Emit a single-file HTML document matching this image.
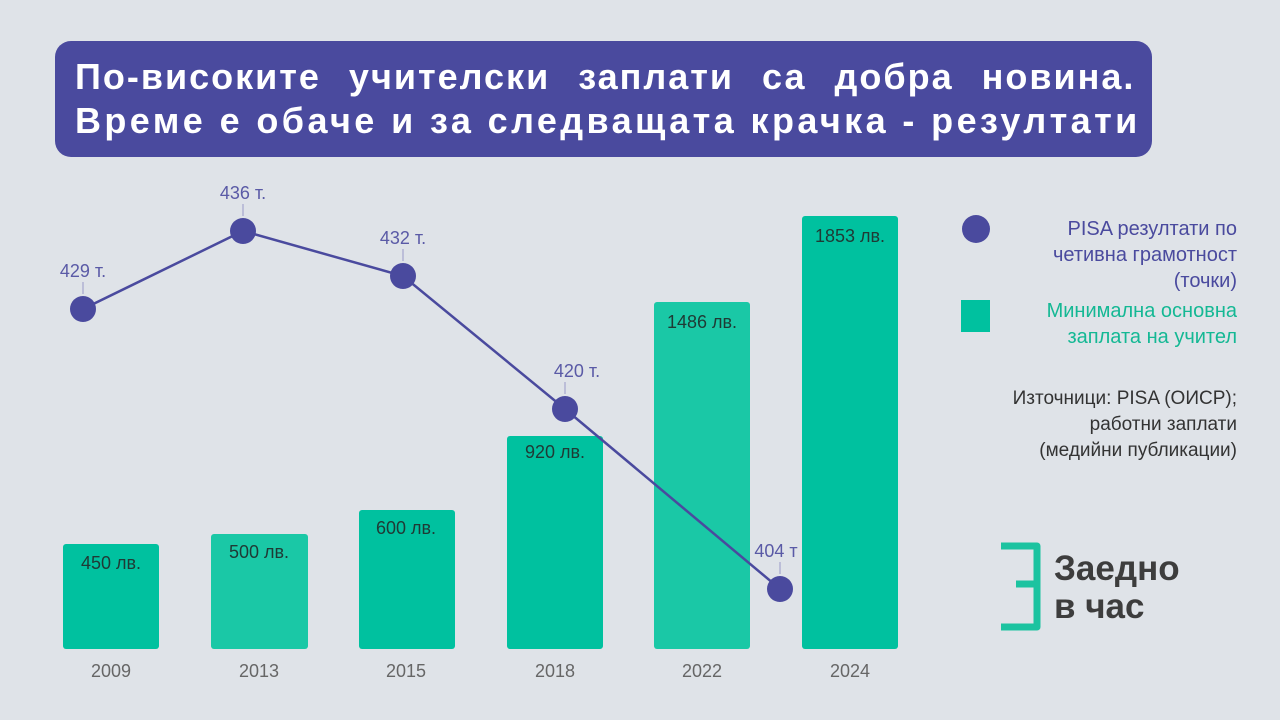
<!DOCTYPE html>
<html><head><meta charset="utf-8"><style>
body{margin:0;width:1280px;height:720px;background:#dfe3e8;overflow:hidden;font-family:"Liberation Sans",sans-serif;position:relative}
.title{position:absolute;left:55px;top:41px;width:1097px;height:116px;background:#4a4a9e;border-radius:16px;color:#fff;font-weight:bold;font-size:36px;line-height:44px;box-sizing:border-box;padding:14px 0 0 20px}
.leg{position:absolute;right:43px;text-align:right;font-size:20px;line-height:26px}
</style></head><body>
<div class="title"><div style="word-spacing:16px;letter-spacing:2px;white-space:nowrap">По-високите учителски заплати са добра новина.</div><div style="letter-spacing:3.4px;white-space:nowrap">Време е обаче и за следващата крачка - резултати</div></div>
<svg width="1280" height="720" style="position:absolute;left:0;top:0" font-family="Liberation Sans, sans-serif">
<g>
<rect x="63" y="544" width="96" height="105" rx="3" fill="#00c19f"/>
<rect x="211" y="534" width="97" height="115" rx="3" fill="#1ac8a6"/>
<rect x="359" y="510" width="96" height="139" rx="3" fill="#00c19f"/>
<rect x="507" y="436" width="96" height="213" rx="3" fill="#00c19f"/>
<rect x="654" y="302" width="96" height="347" rx="3" fill="#1ac8a6"/>
<rect x="802" y="216" width="96" height="433" rx="3" fill="#00c19f"/>
</g>
<g font-size="18" fill="#1f3a35" text-anchor="middle">
<text x="111" y="569">450 лв.</text><text x="259" y="558">500 лв.</text><text x="406" y="534">600 лв.</text>
<text x="555" y="458">920 лв.</text><text x="702" y="328">1486 лв.</text><text x="850" y="242">1853 лв.</text>
</g>
<g font-size="18" fill="#666" text-anchor="middle">
<text x="111" y="677">2009</text><text x="259" y="677">2013</text><text x="406" y="677">2015</text>
<text x="555" y="677">2018</text><text x="702" y="677">2022</text><text x="850" y="677">2024</text>
</g>
<polyline points="83,309 243,231 403,276 565,409 780,589" fill="none" stroke="#4a4a9e" stroke-width="2.5"/>
<g fill="#4a4a9e"><circle cx="83" cy="309" r="13"/><circle cx="243" cy="231" r="13"/><circle cx="403" cy="276" r="13"/><circle cx="565" cy="409" r="13"/><circle cx="780" cy="589" r="13"/></g>
<g stroke="#9a9ac8" stroke-width="1"><line x1="83" y1="282" x2="83" y2="294"/><line x1="243" y1="204" x2="243" y2="216"/><line x1="403" y1="249" x2="403" y2="261"/><line x1="565" y1="382" x2="565" y2="394"/><line x1="780" y1="562" x2="780" y2="574"/></g>
<g font-size="18" fill="#5a5aa6" text-anchor="middle">
<text x="83" y="277">429 т.</text><text x="243" y="199">436 т.</text><text x="403" y="244">432 т.</text><text x="577" y="377">420 т.</text><text x="776" y="557">404 т</text>
</g>
<circle cx="976" cy="229" r="14" fill="#4a4a9e"/>
<rect x="961" y="300" width="29" height="32" fill="#00c19f"/>
<path d="M1001 546 H1037 V584 M1016 584 H1037 V627 H1001" fill="none" stroke="#1cc3a0" stroke-width="7" stroke-linejoin="round"/>
<text x="1054" y="580" font-size="35" font-weight="bold" fill="#3d3d3d">Заедно</text>
<text x="1054" y="618" font-size="35" font-weight="bold" fill="#3d3d3d">в час</text>
</svg>
<div class="leg" style="top:216px;color:#4a4a9e">PISA резултати по<br>четивна грамотност<br>(точки)</div>
<div class="leg" style="top:298px;color:#14b894">Минимална основна<br>заплата на учител</div>
<div class="leg" style="top:386px;color:#333;font-size:19px">Източници: PISA (ОИСР);<br>работни заплати<br>(медийни публикации)</div>
</body></html>
